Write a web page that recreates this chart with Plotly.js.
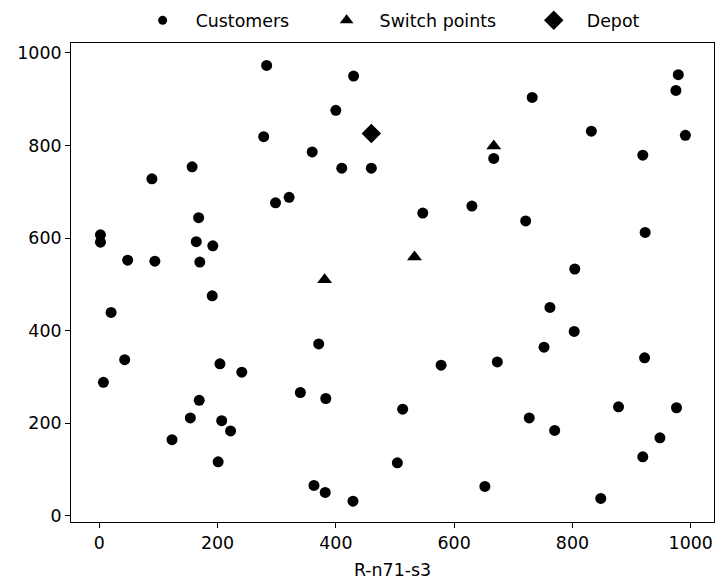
<!DOCTYPE html>
<html>
<head>
<meta charset="utf-8">
<script src="https://cdn.plot.ly/plotly-3.0.1.min.js"></script>
<style>html,body{margin:0;padding:0;background:#fff;}#chart{width:717px;height:584px;}</style>
</head>
<body>
<div id="chart"></div>
<script>
const customersX = [283,430,400,278,360,410,460,157,89,298,321,168,2,2,164,192,48,94,170,
  979,975,732,832,991,667,919,547,630,721,923,804,
  20,191,371,43,204,241,7,340,383,169,154,207,222,123,201,363,382,429,
  762,803,752,922,578,673,513,878,976,727,770,948,919,504,652,848];
const customersY = [973,950,876,819,786,751,751,754,728,676,688,644,607,591,592,583,552,550,548,
  953,919,904,831,822,772,779,654,669,637,612,533,
  439,475,371,337,328,310,288,266,253,249,211,205,183,164,116,65,50,31,
  450,398,364,341,325,332,230,235,233,211,184,168,127,114,63,37];
const switchX = [381,533,667];
const switchY = [510,559,799];
const depotX = [460];
const depotY = [826];
const seriesNames = ["Customers","Switch points","Depot"];
const xTitle = "R-n71-s3";
const tickValues = [0,200,400,600,800,1000];

const font = {family: "DejaVu Sans, sans-serif", size: 17.4, color: "#000"};

const traces = [
  {x: customersX, y: customersY, mode: "markers", type: "scatter", showlegend: false,
   marker: {symbol: "circle", size: 11, color: "#000"}},
  {x: switchX, y: switchY, mode: "markers", type: "scatter", showlegend: false,
   marker: {symbol: "triangle-up", size: 13, color: "#000"}},
  {x: depotX, y: depotY, mode: "markers", type: "scatter", showlegend: false,
   marker: {symbol: "diamond", size: 15, color: "#000"}},
  // legend entries
  {x: [null], y: [null], mode: "markers", type: "scatter", name: seriesNames[0], legend: "legend",
   marker: {symbol: "circle", size: 9, color: "#000"}},
  {x: [null], y: [null], mode: "markers", type: "scatter", name: seriesNames[1], legend: "legend2",
   marker: {symbol: "triangle-up", size: 12, color: "#000"}},
  {x: [null], y: [null], mode: "markers", type: "scatter", name: seriesNames[2], legend: "legend3",
   marker: {symbol: "diamond", size: 15, color: "#000"}}
];

const axisCommon = {
  showgrid: false, zeroline: false, showline: true, mirror: true,
  linecolor: "#000", linewidth: 1, ticks: "outside", ticklen: 5, tickwidth: 1,
  tickcolor: "#000", tickfont: font
};

function leg(x) {
  return {orientation: "h", x: x, xanchor: "left", y: 1.0094, yanchor: "bottom",
    font: font, itemwidth: 56, bgcolor: "rgba(0,0,0,0)", borderwidth: 0};
}

const layout = {
  width: 717, height: 584,
  margin: {l: 71, r: 3, t: 43, b: 62},
  paper_bgcolor: "#fff", plot_bgcolor: "#fff",
  font: font,
  showlegend: true,
  legend: leg(0.0912),
  legend2: leg(0.3773),
  legend3: leg(0.6995),
  xaxis: Object.assign({}, axisCommon, {range: [-47.8, 1039.4], tickvals: tickValues,
    title: {text: xTitle, font: font, standoff: 11}}),
  yaxis: Object.assign({}, axisCommon, {range: [-14, 1021.6], tickvals: tickValues})
};

Plotly.newPlot("chart", traces, layout, {staticPlot: true, displayModeBar: false});
</script>
</body>
</html>
